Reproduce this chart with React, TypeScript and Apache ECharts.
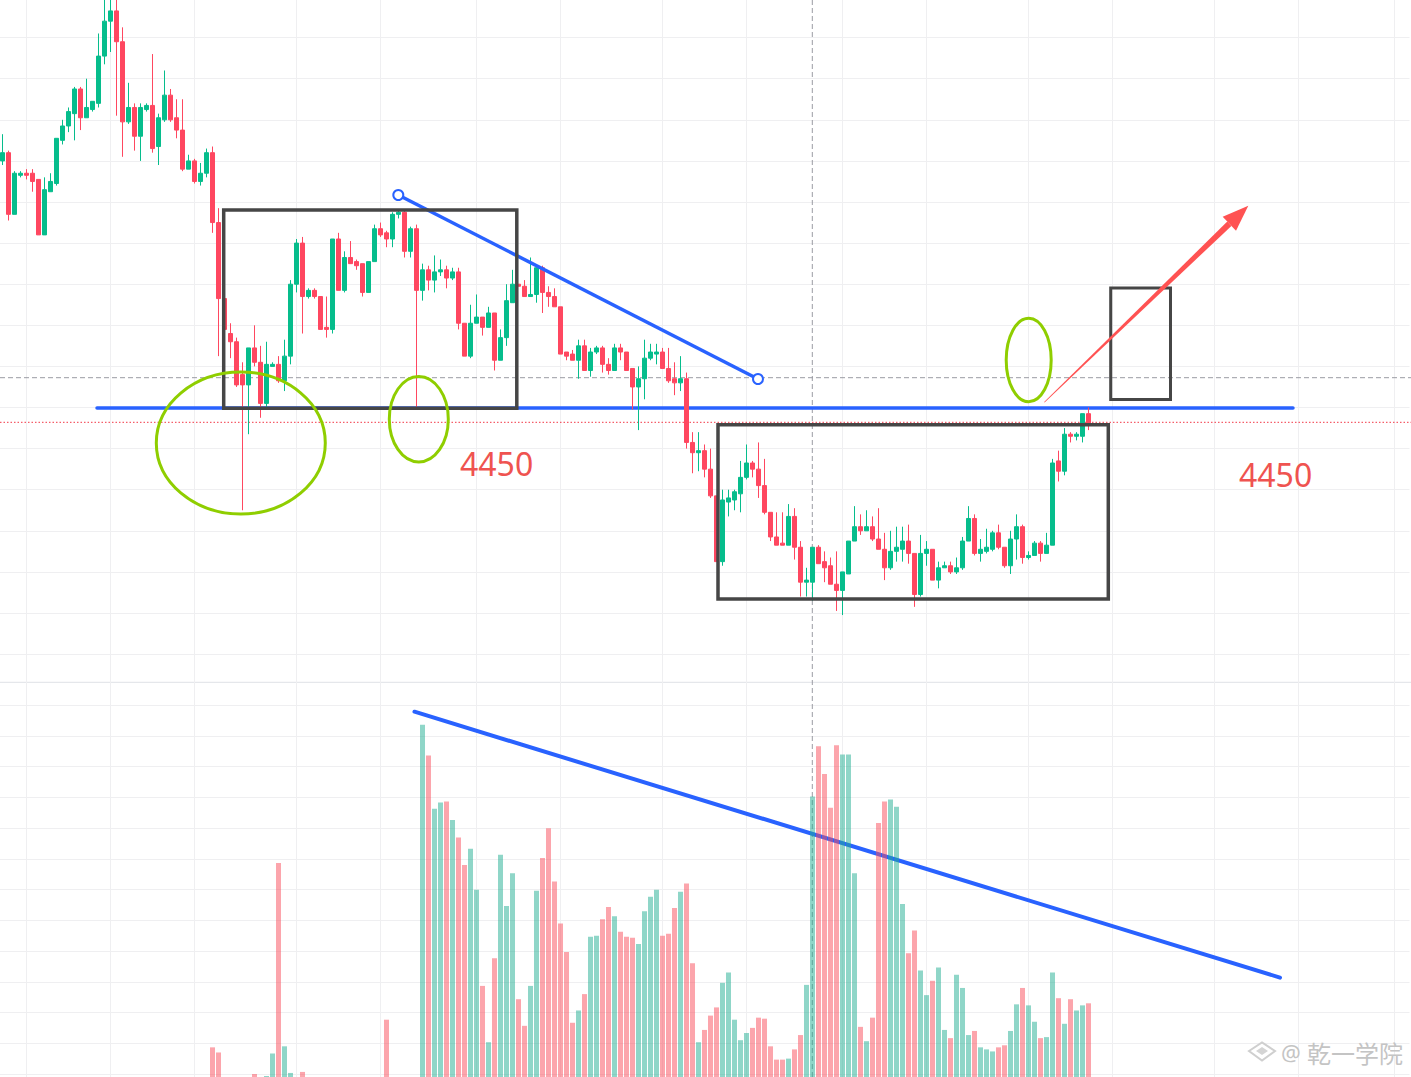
import React, { useEffect, useRef } from "react";
import * as echarts from "echarts";

// [open, close, low, high]
const CANDLES: number[][] = [
  [4510, 4512, 4509, 4516.5], [4512, 4497, 4495.5, 4512.5], [4497, 4507, 4497, 4507.5], [4506.5, 4507, 4506, 4507.5],
  [4507, 4506.5, 4505.5, 4508], [4507, 4505, 4502.5, 4508], [4505.5, 4492, 4492, 4505.5], [4492, 4503, 4492, 4506],
  [4502.5, 4505, 4502.5, 4507], [4504.5, 4515.5, 4504, 4515.5], [4515, 4518.5, 4514, 4520], [4518.5, 4522, 4517, 4523],
  [4521.5, 4527.5, 4515, 4528], [4527.5, 4520.5, 4517.5, 4528], [4520.5, 4523, 4520.5, 4530], [4522.5, 4524.5, 4522, 4524.5],
  [4524, 4535.5, 4523, 4541], [4535.5, 4544, 4533.5, 4550.5], [4544, 4546.5, 4536.5, 4550.5], [4546.5, 4539, 4521, 4550.5],
  [4539, 4519.5, 4511, 4542.5], [4519.5, 4523, 4519, 4529], [4523, 4516, 4512.5, 4524], [4516, 4523, 4510, 4524],
  [4522.5, 4523.5, 4522, 4524], [4523.5, 4513, 4512, 4536], [4513.5, 4520.5, 4509, 4521.5], [4520, 4526, 4519.5, 4532],
  [4526, 4520, 4519.5, 4527.5], [4520.5, 4517.5, 4515.5, 4525], [4517.5, 4508, 4507.5, 4525], [4508, 4510, 4508, 4511.5],
  [4510, 4505, 4504.5, 4510.5], [4505, 4507, 4504, 4509.5], [4507, 4512, 4506, 4513], [4512, 4495, 4492.5, 4513.5],
  [4495, 4476.5, 4462.5, 4498.5], [4476.5, 4469, 4465, 4476.5], [4468, 4466, 4462, 4470.5], [4466, 4455.5, 4455, 4467],
  [4458, 4455.5, 4425, 4461], [4455.5, 4464.5, 4443.5, 4464.5], [4464.5, 4461, 4460, 4470], [4461, 4451, 4447.5, 4465],
  [4451, 4460.5, 4450, 4466], [4460, 4460.5, 4460, 4461], [4460.5, 4456.5, 4456, 4462.5], [4456.5, 4462.5, 4454, 4466.5],
  [4462.5, 4480, 4460.5, 4481], [4480, 4490, 4478, 4491], [4490, 4477, 4468, 4491.5], [4477, 4478.5, 4476.5, 4479],
  [4478.5, 4477, 4476.5, 4479], [4477, 4469, 4469, 4477], [4469.5, 4469, 4467, 4477], [4469, 4491, 4468, 4491],
  [4491, 4478.5, 4478.5, 4492.5], [4478.5, 4486.5, 4478, 4488], [4486.5, 4485, 4485, 4490.5], [4485.5, 4484.5, 4483.5, 4486],
  [4485, 4478, 4477, 4485], [4478, 4485.5, 4478, 4485.5], [4485.5, 4493.5, 4485.5, 4494.5], [4493.5, 4492, 4491.5, 4495],
  [4492.5, 4491, 4489, 4493], [4491, 4497, 4489, 4497.5], [4497, 4497.5, 4496, 4498], [4497.5, 4488, 4486.5, 4498],
  [4488, 4493.5, 4486.5, 4494], [4493.5, 4478.5, 4450, 4494.5], [4478.5, 4483.5, 4476, 4485], [4483.5, 4481, 4478.5, 4484.5],
  [4481, 4483, 4478, 4487], [4483, 4483.5, 4482, 4486], [4483.5, 4481.5, 4479, 4484.5], [4481.5, 4483, 4481, 4484],
  [4483, 4470.5, 4469, 4484], [4470.5, 4462.5, 4462.5, 4470.5], [4462.5, 4470.5, 4462, 4475], [4470.5, 4472, 4470.5, 4477.5],
  [4472, 4469.5, 4467.5, 4472], [4469.5, 4473, 4469.5, 4474.5], [4473, 4461.5, 4459, 4473], [4461.5, 4467, 4461.5, 4469],
  [4467, 4476, 4465, 4480], [4475.5, 4480, 4475.5, 4483.5], [4480, 4479.5, 4479.5, 4480], [4479.5, 4477, 4477, 4481],
  [4477, 4477.5, 4477, 4486.5], [4477.5, 4484, 4475.5, 4484.5], [4484, 4478, 4473, 4484.5], [4478, 4477, 4474.5, 4479.5],
  [4477, 4474.5, 4474.5, 4479], [4474.5, 4463, 4463, 4474.5], [4463.5, 4462.5, 4461.5, 4463.5], [4463, 4461.5, 4461.5, 4464],
  [4461.5, 4465, 4457, 4466.5], [4465, 4459, 4459, 4466.5], [4459, 4463.5, 4457.5, 4464.5], [4463.5, 4464.5, 4463, 4465],
  [4464.5, 4460.5, 4458.5, 4465], [4460.5, 4459, 4458, 4462], [4459, 4464.5, 4459, 4465.5], [4464.5, 4463.5, 4461.5, 4465.5],
  [4463.5, 4459, 4459, 4463.5], [4459.5, 4455, 4449.5, 4459.5], [4455, 4457, 4444.5, 4460], [4457, 4462, 4452, 4466.5],
  [4462, 4463.5, 4461.5, 4465.5], [4463, 4463.5, 4460.5, 4465.5], [4463.5, 4459.5, 4459.5, 4464.5], [4459.5, 4456.5, 4456, 4464.5],
  [4457, 4456, 4453, 4461], [4456, 4457, 4454, 4462.5], [4457, 4441.5, 4440, 4458.5], [4441.5, 4439, 4434, 4444],
  [4439, 4439.5, 4434.5, 4444], [4439.5, 4435, 4433, 4441], [4435, 4428.5, 4428, 4440], [4428.5, 4412.5, 4412.5, 4428.5],
  [4412.5, 4427.5, 4411.5, 4430], [4427, 4428, 4423.5, 4430], [4427.5, 4429.5, 4425, 4430], [4429, 4433, 4424.5, 4437],
  [4433, 4436.5, 4432.5, 4441], [4436.5, 4435, 4433, 4437], [4435, 4431, 4428, 4441.5], [4431, 4424.5, 4424, 4437.5],
  [4424.5, 4418.5, 4417.5, 4424.5], [4418.5, 4416.5, 4416.5, 4424.5], [4417, 4416.5, 4416.5, 4424.5], [4416.5, 4423.5, 4416.5, 4426.5],
  [4423.5, 4416, 4413, 4425.5], [4416, 4407.5, 4404, 4417.5], [4407.5, 4408, 4404, 4411], [4407.5, 4416, 4403, 4416],
  [4416, 4412, 4412, 4416.5], [4412.5, 4411, 4407.5, 4415], [4411.5, 4407, 4407, 4413.5], [4407, 4405.5, 4400.5, 4415],
  [4405.5, 4410, 4399.5, 4410], [4409.5, 4417.5, 4409.5, 4417.5], [4417.5, 4421, 4417.5, 4426], [4421, 4420, 4419, 4424],
  [4420, 4421, 4420, 4425], [4421, 4418, 4417.5, 4423.5], [4418, 4415.5, 4415.5, 4425.5], [4415.5, 4411, 4408, 4419.5],
  [4411, 4415, 4410.5, 4420], [4415, 4416, 4412.5, 4421], [4415.5, 4417.5, 4412.5, 4421], [4417.5, 4414.5, 4412, 4421.5],
  [4414.5, 4404.5, 4401.5, 4414.5], [4404.5, 4414.5, 4404, 4419], [4414.5, 4415.5, 4411.5, 4417.5], [4415.5, 4408, 4408, 4415.5],
  [4408, 4411, 4406, 4412.5], [4411, 4411.5, 4411, 4412.5], [4411.5, 4410, 4409.5, 4412.5], [4410, 4411, 4409.5, 4413.5],
  [4411, 4417.5, 4410.5, 4418.5], [4417.5, 4423, 4417.5, 4426], [4423, 4414.5, 4414, 4424], [4414.5, 4415.5, 4412.5, 4418],
  [4415, 4416, 4414.5, 4420.5], [4415.5, 4419.5, 4415, 4420], [4419.5, 4416, 4415.5, 4421.5], [4416, 4411.5, 4411, 4416],
  [4411.5, 4418, 4409.5, 4420], [4418, 4421, 4413, 4424], [4421, 4413.5, 4412, 4421.5], [4413.5, 4414, 4413, 4415],
  [4414, 4417, 4414, 4417.5], [4417, 4414.5, 4412.5, 4417.5], [4414.5, 4416.5, 4414.5, 4419.5], [4416.5, 4436.5, 4416.5, 4437.5],
  [4437, 4434.5, 4432, 4439.5], [4434.5, 4443.5, 4433.5, 4445], [4443.5, 4443, 4441.5, 4444], [4443, 4443.5, 4442, 4444],
  [4443, 4448.5, 4441.5, 4448.5], [4448.5, 4446, 4444.5, 4450],
];

const VOLUMES: number[] = [
  12, 8, 15, 10, 6, 14, 18, 9, 11, 7, 16, 13, 20, 12, 9, 15, 22, 25, 19, 24,
  21, 14, 10, 12, 8, 17, 11, 13, 9, 10, 15, 7, 12, 9, 14, 56, 51, 18, 12, 20,
  24, 15, 30, 22, 28, 50, 236, 57, 31, 20, 32, 14, 10, 16, 12, 25, 18, 13, 9, 8,
  11, 10, 14, 7, 83, 12, 9, 20, 15, 24, 371, 341, 289, 295, 296, 278, 261, 234, 250, 210,
  116, 61, 143, 244, 194, 226, 103, 77, 116, 209, 241, 270, 218, 177, 149, 80, 92, 108, 164, 165,
  181, 193, 184, 169, 164, 163, 157, 189, 203, 210, 165, 167, 192, 208, 216, 138, 61, 73, 87, 95,
  119, 129, 83, 63, 70, 75, 85, 84, 57, 44, 44, 45, 54, 68, 117, 301, 350, 323, 290, 351,
  342, 342, 226, 76, 62, 85, 275, 296, 298, 291, 196, 148, 170, 131, 107, 121, 134, 73, 65, 127,
  114, 68, 72, 56, 54, 52, 56, 58, 72, 98, 114, 97, 81, 65, 66, 129, 104, 79, 103, 92,
  97, 99,
];

const SLOTS = 235;
const CATEGORIES: string[] = Array.from({ length: SLOTS }, (_, i) => String(i));
const TIME_GRID_INDEX: number[] = [4, 18, 32, 49, 63, 79, 93, 110, 124, 140, 154, 171, 185, 202, 216, 232];
const LEVEL_LABEL = "4450";

const UP = "#06bd8c";
const DOWN = "#ff4760";
const VOL_UP = "rgba(31,173,145,0.5)";
const VOL_DOWN = "rgba(249,75,89,0.5)";
const GRID = "#efeff1";
const BLUE = "#2962ff";
const BOX = "#464646";
const GREEN = "#8fce00";
const ARROW = "#ff5252";
const LABEL_RED = "#ef5350";
const WM = "#c4c4c4";

export default function App() {
  const ref = useRef<HTMLDivElement | null>(null);

  useEffect(() => {
    if (!ref.current) return;
    document.body.style.margin = "0";
    const chart = echarts.init(ref.current, null, { renderer: "svg" });

    const volData = VOLUMES.map((v, i) => ({
      value: v,
      itemStyle: { color: CANDLES[i][1] >= CANDLES[i][0] ? VOL_UP : VOL_DOWN },
    }));

    const hiddenAxis = {
      axisLine: { show: false },
      axisTick: { show: false },
      axisLabel: { show: false },
    };

    const dash = { stroke: "#9a9ca3", lineWidth: 1, lineDash: [5, 3] };

    const graphic: any[] = [
      { type: "line", z: 0, shape: { x1: 0, y1: 682.3, x2: 1411, y2: 682.3 }, style: { stroke: "#dfe2e7", lineWidth: 1 } },
      { type: "line", z: 1, shape: { x1: 812.3, y1: 0, x2: 812.3, y2: 1077 }, style: dash },
      { type: "line", z: 1, shape: { x1: 0, y1: 377.7, x2: 1411, y2: 377.7 }, style: dash },
      { type: "line", z: 1, shape: { x1: 0, y1: 422.3, x2: 1411, y2: 422.3 }, style: { stroke: "#f23645", lineWidth: 1, lineDash: [1.5, 2] } },
      { type: "line", z: 1, shape: { x1: 97, y1: 408, x2: 1293, y2: 408 }, style: { stroke: BLUE, lineWidth: 3.5, lineCap: "round" } },
      { type: "line", z: 1, shape: { x1: 414.5, y1: 711.7, x2: 1280, y2: 977.6 }, style: { stroke: BLUE, lineWidth: 4, lineCap: "round" } },
      { type: "line", z: 10, shape: { x1: 398.3, y1: 195, x2: 758, y2: 379 }, style: { stroke: BLUE, lineWidth: 3.5 } },
      { type: "circle", z: 11, shape: { cx: 398.3, cy: 195, r: 5 }, style: { fill: "#ffffff", stroke: BLUE, lineWidth: 2 } },
      { type: "circle", z: 11, shape: { cx: 758, cy: 379, r: 5 }, style: { fill: "#ffffff", stroke: BLUE, lineWidth: 2 } },
      { type: "rect", z: 10, shape: { x: 223.7, y: 210, width: 293.1, height: 198.3 }, style: { fill: "none", stroke: BOX, lineWidth: 3.5 } },
      { type: "rect", z: 10, shape: { x: 718, y: 424.7, width: 390.3, height: 174.3 }, style: { fill: "none", stroke: BOX, lineWidth: 3.5 } },
      { type: "rect", z: 10, shape: { x: 1110.7, y: 288, width: 59.8, height: 111.5 }, style: { fill: "none", stroke: BOX, lineWidth: 3 } },
      { type: "ellipse", z: 10, shape: { cx: 240.8, cy: 443, rx: 84.5, ry: 71 }, style: { fill: "none", stroke: GREEN, lineWidth: 3 } },
      { type: "ellipse", z: 10, shape: { cx: 418.8, cy: 419.2, rx: 29.5, ry: 42.7 }, style: { fill: "none", stroke: GREEN, lineWidth: 3 } },
      { type: "ellipse", z: 10, shape: { cx: 1028.7, cy: 360, rx: 22.5, ry: 41.8 }, style: { fill: "none", stroke: GREEN, lineWidth: 3 } },
      {
        type: "polygon", z: 10,
        shape: { points: [[1044.1, 402.1], [1044.6, 402.6], [1231.4, 225.9], [1227.3, 221.5]] },
        style: { fill: ARROW },
      },
      {
        type: "polygon", z: 10,
        shape: { points: [[1248.3, 205.7], [1222.7, 216.7], [1236, 230.7]] },
        style: { fill: ARROW },
      },
      { type: "text", z: 10, x: 460, y: 463, style: { text: LEVEL_LABEL, fill: LABEL_RED, fontSize: 32, fontFamily: "Noto Sans", verticalAlign: "middle" } },
      { type: "text", z: 10, x: 1239, y: 474, style: { text: LEVEL_LABEL, fill: LABEL_RED, fontSize: 32, fontFamily: "Noto Sans", verticalAlign: "middle" } },
      {
        type: "polygon", z: 10,
        shape: { points: [[1249, 1051], [1262, 1042.5], [1275, 1051], [1262, 1060.5]] },
        style: { fill: "none", stroke: "#cfcfcf", lineWidth: 2 },
      },
      {
        type: "polygon", z: 10,
        shape: { points: [[1256, 1051], [1262, 1047], [1268, 1051], [1262, 1055]] },
        style: { fill: "#d4d4d4" },
      },
      { type: "text", z: 10, x: 1281, y: 1052, style: { text: "@", fill: WM, fontSize: 22, fontFamily: "Noto Sans", verticalAlign: "middle" } },
      { type: "text", z: 10, x: 1307, y: 1052, style: { text: "乾一学院", fill: WM, fontSize: 24, fontFamily: "Noto Sans CJK SC", verticalAlign: "middle" } },
    ];

    const option: any = {
      animation: false,
      backgroundColor: "#ffffff",
      grid: [
        { left: -0.5, width: 1410, top: -44.59, height: 698.69, outerBoundsMode: "none", containLabel: false },
        { left: -0.5, width: 1410, top: 705.3, height: 399.4, outerBoundsMode: "none", containLabel: false },
        { left: 2.5, width: 1404, top: 0, height: 1077, outerBoundsMode: "none", containLabel: false },
      ],
      xAxis: [
        { type: "category", gridIndex: 0, data: CATEGORIES, boundaryGap: true, ...hiddenAxis, splitLine: { show: false } },
        { type: "category", gridIndex: 1, data: CATEGORIES, boundaryGap: true, ...hiddenAxis, splitLine: { show: false } },
        {
          type: "category", gridIndex: 2, data: CATEGORIES, boundaryGap: false, ...hiddenAxis,
          splitLine: { show: true, interval: (idx: number) => TIME_GRID_INDEX.includes(idx), lineStyle: { color: GRID, width: 1 } },
        },
      ],
      yAxis: [
        { type: "value", gridIndex: 0, min: 4390, max: 4560, interval: 10, ...hiddenAxis, splitLine: { show: true, lineStyle: { color: GRID, width: 1 } } },
        { type: "value", gridIndex: 1, min: 0, max: 390, interval: 30, ...hiddenAxis, splitLine: { show: true, lineStyle: { color: GRID, width: 1 } } },
        { type: "value", gridIndex: 2, show: false },
      ],
      series: [
        {
          type: "candlestick",
          xAxisIndex: 0,
          yAxisIndex: 0,
          data: CANDLES,
          barWidth: 4,
          clip: false,
          itemStyle: { color: UP, color0: DOWN, borderColor: UP, borderColor0: DOWN, borderWidth: 1 },
        },
        {
          type: "bar",
          xAxisIndex: 1,
          yAxisIndex: 1,
          data: volData,
          barWidth: 5,
        },
      ],
      graphic,
    };

    chart.setOption(option);
    return () => chart.dispose();
  }, []);

  return <div ref={ref} style={{ position: "fixed", left: 0, top: 0, width: 1411, height: 1077 }} />;
}
